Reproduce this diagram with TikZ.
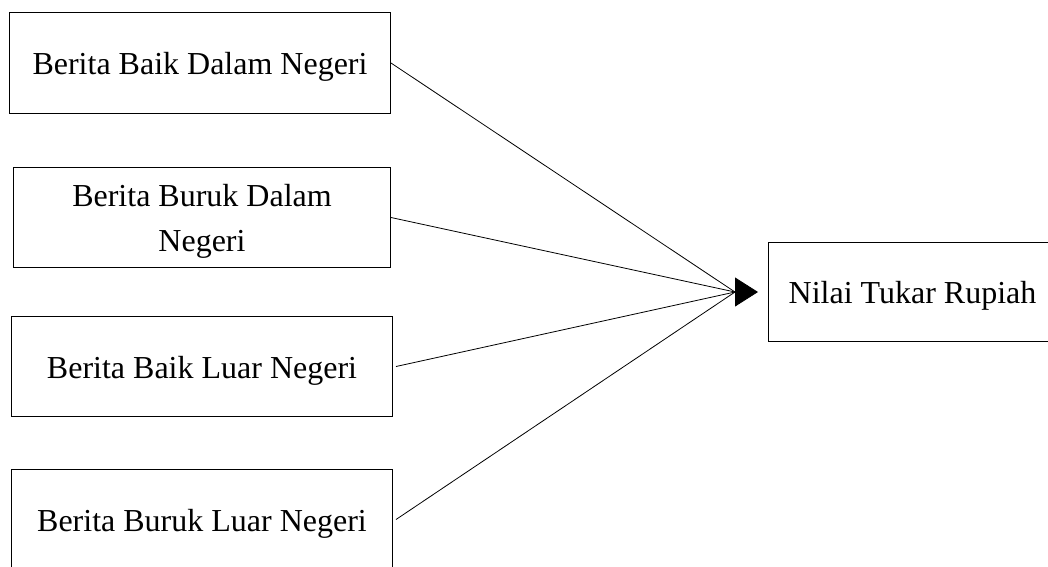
\documentclass[tikz,border=0pt]{standalone}
\usepackage{fontspec}
\setmainfont{Liberation Serif}
\usetikzlibrary{arrows.meta}
\begin{document}
\begin{tikzpicture}[x=1pt,y=-1pt,
  box/.style={draw, line width=1pt, anchor=north west, inner sep=0pt},
  lbl/.style={yshift=-4pt, align=center, inner sep=0pt, font=\fontsize{32}{45}\selectfont},
  conn/.style={line width=0.8pt}]
\useasboundingbox (0,0) rectangle (1048,566);
\clip (0,0) rectangle (1048,566);
\node[box, minimum width=381pt, minimum height=101pt, label={[lbl]center:Berita Baik Dalam Negeri}] (a) at (9,12) {};
\node[box, minimum width=377pt, minimum height=100pt, label={[lbl]center:Berita Buruk Dalam\\Negeri}] (b) at (13,167) {};
\node[box, minimum width=381pt, minimum height=100pt, label={[lbl]center:Berita Baik Luar Negeri}] (c) at (11,316) {};
\node[box, minimum width=381pt, minimum height=100pt, label={[lbl]center:Berita Buruk Luar Negeri}] (d) at (11,469) {};
\node[box, minimum width=288pt, minimum height=99pt, label={[lbl]center:Nilai Tukar Rupiah}] (t) at (768,242) {};
\coordinate (j) at (735,292);
\draw[conn] (a.east) -- (j);
\draw[conn] (b.east) -- (j);
\draw[conn] ([xshift=3pt]c.east) -- (j);
\draw[conn] ([xshift=3pt]d.east) -- (j);
\draw[conn, -{Triangle[length=23pt,width=29pt]}, shorten >=10pt] (j) -- (j -| t.west);
\end{tikzpicture}
\end{document}
